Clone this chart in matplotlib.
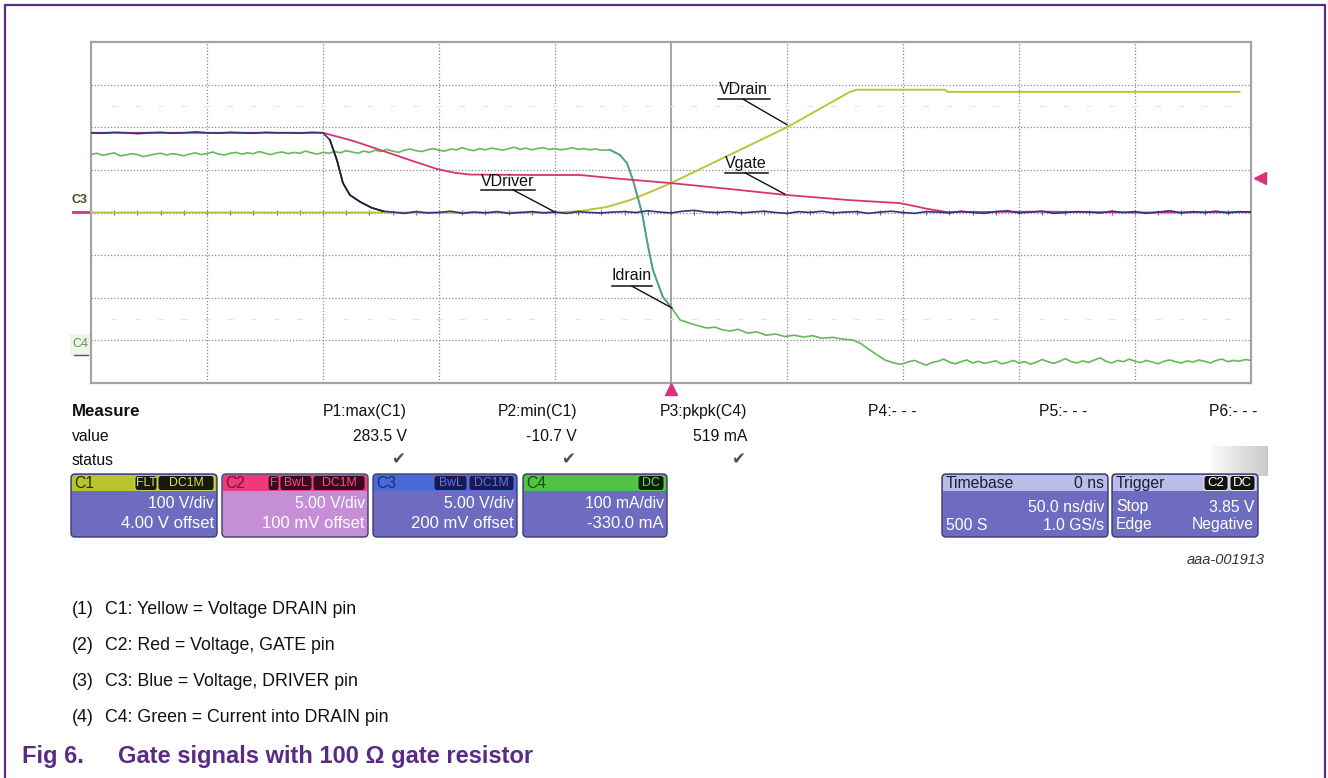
"""Gate-switching scope capture (100 ohm gate resistor) redrawn with matplotlib -> out.png."""

import matplotlib

matplotlib.use("Agg")
import matplotlib.pyplot as plt
import numpy as np
from matplotlib.patches import FancyBboxPatch, Rectangle

plt.rcParams["font.family"] = ["Liberation Sans", "DejaVu Sans"]

W, H = 1328, 778

# ---- traces: time in ns (50 ns/div), amplitude in divisions ----
# C1 VDrain
drain_t = [-250, -48, -39, -27.6, -17.7, -9, 0, 50, 77.1, 80.1, 118, 119.4, 245]
drain_v = [0.0, 0.0, 0.035, 0.13, 0.29, 0.48, 0.69, 2.0, 2.83, 2.88, 2.88, 2.83, 2.83]

# C2 Vgate
gate_t = [-250, -150, -137, -125.5, -112, -100.9, -93, -86.6, -60, -39.2, -22, 0,
          25.4, 50, 77, 98.7, 105, 110, 119, 160, 200, 250]
gate_v = [1.87, 1.87, 1.68, 1.47, 1.22, 1.02, 0.93, 0.89, 0.88, 0.88, 0.79, 0.69,
          0.55, 0.41, 0.29, 0.22, 0.15, 0.09, 0.01, 0.02, 0.0, 0.01]

# C3 VDriver: flat high, fast fall, then noise around 0
driver_hi = [1.87, 1.86, 1.88, 1.87, 1.85, 1.87, 1.88, 1.86, 1.87, 1.89, 1.87,
             1.86, 1.88, 1.87, 1.86, 1.88, 1.87, 1.87, 1.86, 1.88, 1.87]
driver_fall_t = [-147, -144, -141.4, -138.4, -134, -129, -124]
driver_fall_v = [1.70, 1.23, 0.69, 0.41, 0.25, 0.11, 0.03]
driver_lo = [0.01, -0.02, 0.02, -0.01, 0.00, 0.03, -0.02, 0.01, -0.01, 0.02,
             -0.02, 0.00, 0.02, -0.01, 0.01, -0.02, 0.02, 0.00, -0.01, 0.01,
             0.02, 0.00, 0.04, 0.01, -0.01, 0.03, 0.05, 0.01, 0.00, 0.02,
             -0.01, 0.01, 0.03, 0.00, -0.02, 0.02, 0.00, 0.03, -0.01, 0.01,
             0.02, -0.02, 0.01, 0.03, 0.00, -0.02, 0.02, 0.01, -0.01, 0.03,
             0.00, -0.02, 0.02, 0.04, -0.01, 0.01, 0.03, -0.02, 0.00, 0.02,
             0.01, -0.01, 0.03, 0.00, 0.02, -0.02, 0.01, 0.04, -0.01, 0.02,
             0.00, 0.03, -0.01, 0.02, 0.01]

# C4 Idrain: noisy on-current, turn-off edge, noisy off level
idrain_on = [1.36, 1.39, 1.34, 1.37, 1.40, 1.33, 1.35, 1.38, 1.36, 1.31,
             1.34, 1.37, 1.39, 1.35, 1.38, 1.36, 1.33, 1.37, 1.40, 1.36,
             1.38, 1.42, 1.37, 1.35, 1.39, 1.41, 1.37, 1.40, 1.38, 1.43,
             1.39, 1.36, 1.40, 1.42, 1.38, 1.41, 1.39, 1.44, 1.40, 1.37,
             1.41, 1.39, 1.43, 1.40, 1.45, 1.42, 1.39, 1.44, 1.41, 1.46,
             1.43, 1.48, 1.44, 1.41, 1.46, 1.49, 1.45, 1.43, 1.47, 1.50,
             1.46, 1.44, 1.49, 1.47, 1.52, 1.48, 1.45, 1.50, 1.47, 1.51,
             1.49, 1.46, 1.50, 1.53, 1.48, 1.51, 1.47, 1.50, 1.52, 1.48,
             1.50, 1.47, 1.49, 1.52, 1.48, 1.50, 1.47, 1.49, 1.46]
idrain_edge_t = [-26.3, -22, -19, -16.4, -12.5, -10, -7.8, -3.5, 0, 3.9, 8.2, 12,
                 15.5, 19, 22, 25.4, 29, 33, 37, 41, 45, 49, 53, 57, 61, 65,
                 69.8, 74, 78.4, 82, 84.5, 88.8, 92.2, 95.5, 98.7]
idrain_edge_v = [1.47, 1.35, 1.16, 0.76, -0.01, -0.76, -1.35, -1.98, -2.22, -2.52,
                 -2.60, -2.66, -2.71, -2.69, -2.75, -2.78, -2.74, -2.83, -2.80,
                 -2.88, -2.85, -2.91, -2.88, -2.92, -2.89, -2.95, -2.93, -2.97,
                 -2.99, -3.08, -3.18, -3.34, -3.46, -3.52, -3.56]
idrain_off = [-3.55, -3.50, -3.47, -3.53, -3.58, -3.52, -3.49, -3.44, -3.51, -3.55,
              -3.50, -3.46, -3.53, -3.49, -3.54, -3.51, -3.48, -3.55, -3.52, -3.47,
              -3.53, -3.50, -3.56, -3.51, -3.45, -3.50, -3.54, -3.49, -3.43, -3.50,
              -3.53, -3.48, -3.52, -3.46, -3.41, -3.49, -3.53, -3.47, -3.50, -3.44,
              -3.49, -3.52, -3.47, -3.51, -3.55, -3.49, -3.46, -3.50, -3.53, -3.48,
              -3.51, -3.46, -3.49, -3.53, -3.47, -3.44, -3.50, -3.47, -3.49, -3.45,
              -3.47]

# sample clocks of the noisy segments
t_driver_hi = np.arange(-250, -149, 5.0)
t_driver_lo = np.arange(-120, 251, 5.0)
t_idrain_on = np.arange(-250, -29, 2.5)
t_idrain_off = np.arange(100, 251, 2.5)

# ---- measurement / channel panels ----
meas_names = ["P1:max(C1)", "P2:min(C1)", "P3:pkpk(C4)", "P4:- - -", "P5:- - -", "P6:- - -"]
meas_values = ["283.5 V", "-10.7 V", "519 mA", "", "", ""]
meas_ok = [True, True, True, False, False, False]

chan_names = ["C1", "C2", "C3", "C4"]
chan_scale = ["100 V/div", "5.00 V/div", "5.00 V/div", "100 mA/div"]
chan_offset = ["4.00 V offset", "100 mV offset", "200 mV offset", "-330.0 mA"]
chan_badges = [[("FLT", 135, 157), ("DC1M", 158, 214)],
               [("F", 268, 279), ("BwL", 280, 312), ("DC1M", 313, 365)],
               [("BwL", 434, 467), ("DC1M", 469, 514)],
               [("DC", 638, 664)]]

captions = ["C1: Yellow = Voltage DRAIN pin",
            "C2: Red = Voltage, GATE pin",
            "C3: Blue = Voltage, DRIVER pin",
            "C4: Green = Current into DRAIN pin"]

C_DRAIN = "#bcc43a"
C_GATE = "#d9317a"
C_DRIVER = "#30347e"
C_IDRAIN = "#66b85a"
PURPLE = "#5b2a86"
FS_UI = 11.3

fig = plt.figure(figsize=(W / 100, H / 100), dpi=100)
fig.patch.set_facecolor("white")

# overlay in pixel coordinates for the frame, panels and captions
ov = fig.add_axes([0, 0, 1, 1], zorder=0)
ov.set_xlim(0, W)
ov.set_ylim(H, 0)
ov.axis("off")

# ---- scope screen ----
ax = fig.add_axes([91 / W, (H - 383) / H, 1160 / W, 341 / H], zorder=1)
ax.set_xlim(-250, 250)
ax.set_ylim(-4, 4)
ax.set_xticks([])
ax.set_yticks([])
for s in ax.spines.values():
    s.set_color("#a4a4a4")
    s.set_linewidth(1.6)

grid_kw = dict(color="#8a8a8a", lw=0.9, ls=(0, (1, 1.6)), zorder=1)
for t in [-200, -150, -100, -50, 50, 100, 150, 200]:
    ax.axvline(t, **grid_kw)
for d in [-3, -2, -1, 0, 1, 2, 3]:
    ax.axhline(d, **grid_kw)
ax.axvline(0, color="#8c8c8c", lw=1.1, zorder=1)
ax.vlines(np.arange(-240, 250, 10), -0.07, 0.07, color="#707070", lw=0.8, zorder=1)
for yd in (2.5, -2.5):
    ax.hlines([yd] * 49, np.arange(-240, 250, 10) - 1.2, np.arange(-240, 250, 10) + 1.2,
              color="#e4e4e4", lw=0.8, zorder=1)

ax.plot(drain_t, drain_v, color=C_DRAIN, lw=1.4, zorder=3)
ax.plot(np.r_[t_idrain_on, idrain_edge_t, t_idrain_off],
        np.r_[idrain_on, idrain_edge_v, idrain_off], color=C_IDRAIN, lw=1.2, zorder=4)
ax.plot(idrain_edge_t[:9], idrain_edge_v[:9], color="#4f9f92", lw=1.3, zorder=4)
ax.plot(gate_t, gate_v, color=C_GATE, lw=1.3, zorder=5)
ax.plot(np.r_[t_driver_hi, driver_fall_t, t_driver_lo],
        np.r_[driver_hi, driver_fall_v, driver_lo], color=C_DRIVER, lw=1.2, zorder=6)
ax.plot(driver_fall_t, driver_fall_v, color="#202030", lw=1.2, zorder=6)

# labelled traces: (label, text pos, underline span, leader start, leader end)
labels = [
    ("VDrain", (31.0, 2.88), (20.2, 42.7, 2.66), (31.0, 2.66), (50.0, 2.06)),
    ("Vgate", (32.3, 1.16), (23.3, 41.8, 0.93), (31.9, 0.93), (49.1, 0.43)),
    ("VDriver", (-70.3, 0.72), (-81.9, -58.6, 0.53), (-68.1, 0.53), (-50.0, 0.01)),
    ("Idrain", (-16.8, -1.47), (-25.4, -8.2, -1.73), (-16.8, -1.73), (0.4, -2.24)),
]
for name, (tx, ty), (u0, u1, uy), p0, p1 in labels:
    ax.text(tx, ty, name, ha="center", va="center", fontsize=11.5, color="#111", zorder=8)
    ax.plot([u0, u1], [uy, uy], color="#111", lw=1.1, zorder=8)
    ax.plot([p0[0], p1[0]], [p0[1], p1[1]], color="#111", lw=1.0, zorder=8)

# trigger markers
ax.plot([0], [-4.13], marker="^", ms=8, color="#d9317a", clip_on=False, zorder=9)
ax.plot([254], [0.81], marker="<", ms=8, color="#d9317a", clip_on=False, zorder=9)

# channel ground markers left of the screen
ov.text(80, 200, "C3", ha="center", va="center", fontsize=9, color="#4a4a28", fontweight="bold")
ov.plot([73, 90], [212, 212], color=C_GATE, lw=2.0)
ov.add_patch(Rectangle((70, 334), 20, 22, color="#eef7e6", lw=0))
ov.text(80, 344, "C4", ha="center", va="center", fontsize=9, color="#6a8a6a")
ov.plot([74, 88], [355, 355], color="#556", lw=1.0)

# ---- outer frame ----
ov.plot([5, 5, 1325, 1325], [H, 5, 5, H], color=PURPLE, lw=1.6)

# ---- measurement table ----
ov.text(72, 411, "Measure", ha="left", va="center", fontsize=12.2, fontweight="bold", color="#111")
ov.text(72, 436, "value", ha="left", va="center", fontsize=FS_UI, color="#111")
ov.text(72, 460, "status", ha="left", va="center", fontsize=FS_UI, color="#111")
col_right = [407, 577, 747, 917, 1087, 1257]
for xr, nm, val, ok in zip(col_right, meas_names, meas_values, meas_ok):
    ov.text(xr, 411, nm, ha="right", va="center", fontsize=FS_UI, color="#111")
    if val:
        ov.text(xr, 436, val, ha="right", va="center", fontsize=FS_UI, color="#111")
    if ok:
        ov.text(xr - 9, 459, "\u2714", ha="center", va="center", fontsize=12,
                color="#505050", family="DejaVu Sans")

# soft gray shading at the right of the status row
grad = np.linspace(0.0, 1.0, 60)[None, :] ** 0.6
ov.imshow(grad, extent=(1210, 1268, 476, 446), cmap="Greys", vmin=0, vmax=3.2,
          aspect="auto", zorder=0.5)
ov.set_xlim(0, W)
ov.set_ylim(H, 0)


def panel(x0, x1, head_col, body_col, edge="#3c3c72"):
    y0, y1, yh = 474, 537, 491
    ov.add_patch(FancyBboxPatch((x0, y0), x1 - x0, y1 - y0,
                                boxstyle="round,pad=0,rounding_size=4",
                                fc=body_col, ec=edge, lw=1.0, zorder=2))
    ov.add_patch(FancyBboxPatch((x0 + 1, y0 + 1), x1 - x0 - 2, yh - y0 - 1,
                                boxstyle="round,pad=0,rounding_size=3",
                                fc=head_col, ec="none", zorder=3))
    ov.add_patch(Rectangle((x0 + 1, yh - 6), x1 - x0 - 2, 6, fc=head_col, ec="none", zorder=3))


def badge(x0, x1, text, fc, tc, fs=8.8):
    ov.add_patch(FancyBboxPatch((x0, 475.5), x1 - x0, 15, boxstyle="round,pad=0,rounding_size=3",
                                fc=fc, ec=tc, lw=0.6, zorder=4))
    ov.text((x0 + x1) / 2, 483, text, ha="center", va="center", fontsize=fs,
            color=tc, zorder=5)


chan_x = [(71, 217), (222, 368), (373, 517), (523, 667)]
chan_head = ["#b8c42e", "#ee3a78", "#4a6ad8", "#52c244"]
chan_body = ["#6e6cc0", "#c68ed6", "#6e6cc0", "#6e6cc0"]
chan_name_col = ["#2a2a10", "#7a1038", "#1c2a70", "#1a4a14"]
badge_fc = ["#1a1a0a", "#3a0a1c", "#1a1a50", "#0a200a"]
badge_tc = ["#d8e060", "#ff4a8a", "#5878e8", "#60e050"]

for (x0, x1), nm, sc, off, bl, hc, bc, nc, bfc, btc in zip(
        chan_x, chan_names, chan_scale, chan_offset, chan_badges,
        chan_head, chan_body, chan_name_col, badge_fc, badge_tc):
    panel(x0, x1, hc, bc)
    ov.text(x0 + 3, 483, nm, ha="left", va="center", fontsize=FS_UI, color=nc, zorder=5)
    for b, bx0, bx1 in bl:
        badge(bx0, bx1, b, bfc, btc)
    ov.text(x1 - 3, 503, sc, ha="right", va="center", fontsize=FS_UI, color="white", zorder=5)
    ov.text(x1 - 3, 524, off, ha="right", va="center", fontsize=FS_UI + 0.7, color="white", zorder=5)

# timebase and trigger
panel(942, 1108, "#bcbce8", "#6e6cc0")
ov.text(946, 483, "Timebase", ha="left", va="center", fontsize=FS_UI, color="#1a1a3a", zorder=5)
ov.text(1104, 483, "0 ns", ha="right", va="center", fontsize=FS_UI, color="#1a1a3a", zorder=5)
ov.text(1104, 507, "50.0 ns/div", ha="right", va="center", fontsize=FS_UI, color="white", zorder=5)
ov.text(946, 525, "500 S", ha="left", va="center", fontsize=FS_UI, color="white", zorder=5)
ov.text(1104, 525, "1.0 GS/s", ha="right", va="center", fontsize=FS_UI, color="white", zorder=5)

panel(1112, 1258, "#bcbce8", "#6e6cc0")
ov.text(1116, 483, "Trigger", ha="left", va="center", fontsize=FS_UI, color="#1a1a3a", zorder=5)
badge(1204, 1228, "C2", "#111111", "white", fs=9.5)
badge(1230, 1255, "DC", "#111111", "white", fs=9.5)
ov.text(1116, 507, "Stop", ha="left", va="center", fontsize=FS_UI, color="white", zorder=5)
ov.text(1254, 507, "3.85 V", ha="right", va="center", fontsize=FS_UI, color="white", zorder=5)
ov.text(1116, 525, "Edge", ha="left", va="center", fontsize=FS_UI, color="white", zorder=5)
ov.text(1254, 525, "Negative", ha="right", va="center", fontsize=FS_UI, color="white", zorder=5)

ov.text(1265, 560, "aaa-001913", ha="right", va="center", fontsize=10.5, style="italic", color="#333")

# ---- captions ----
for i, cap in enumerate(captions):
    y = 610 + i * 35.7
    ov.text(72, y, f"({i + 1})", ha="left", va="center", fontsize=12.8, color="#111")
    ov.text(105, y, cap, ha="left", va="center", fontsize=12.8, color="#111")
ov.text(22, 757, "Fig 6.", ha="left", va="center", fontsize=17, fontweight="bold", color=PURPLE)
ov.text(118, 757, "Gate signals with 100 \u03a9 gate resistor", ha="left", va="center",
        fontsize=17, fontweight="bold", color=PURPLE)

fig.savefig("out.png", dpi=100)
